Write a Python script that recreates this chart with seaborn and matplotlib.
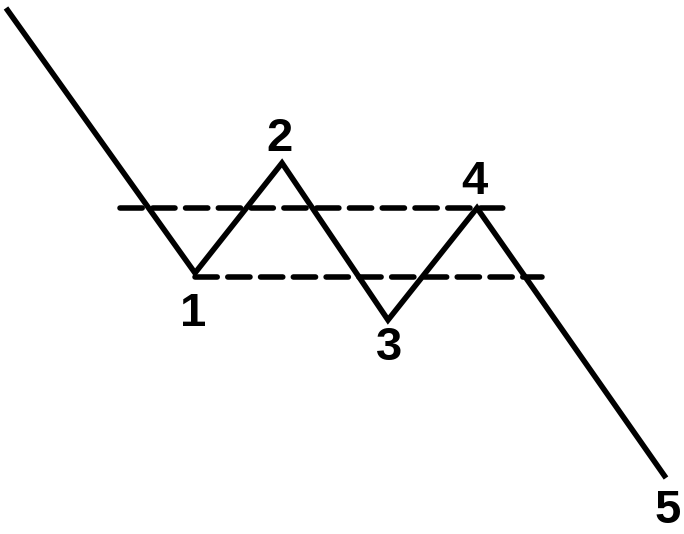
import matplotlib
matplotlib.use("Agg")
import matplotlib.pyplot as plt
import seaborn as sns
import pandas as pd

# zigzag path (pixel-like units, y grows downward)
wave_x = [6, 195, 282, 388, 477, 666]
wave_y = [8, 273, 163, 320, 208, 478]

# dashed levels
level_y = [208, 277]
level_x0 = [120, 195]
level_x1 = [512, 542]

# point labels
label_text = ["1", "2", "3", "4", "5"]
label_x = [193, 280, 389, 474, 668]
label_y = [314, 139, 348, 182, 511]

sns.set_style("white")

fig = plt.figure(figsize=(6.84, 5.34), dpi=100)
ax = fig.add_axes([0, 0, 1, 1])

df = pd.DataFrame({"x": wave_x, "y": wave_y})
sns.lineplot(data=df, x="x", y="y", sort=False, color="black", linewidth=4.0, ax=ax,
             solid_joinstyle="miter", solid_capstyle="butt")

hl = ax.hlines(level_y, level_x0, level_x1, colors="black", linewidth=4.0,
               linestyles=(0, (4.0, 1.9)))
hl.set_capstyle("round")

for t, x, y in zip(label_text, label_x, label_y):
    ax.text(x, y, t, ha="center", va="center", fontsize=34, fontweight="bold",
            family="Liberation Sans", color="black")

ax.set_xlim(0, 684)
ax.set_ylim(534, 0)
ax.axis("off")

fig.savefig("out.png", dpi=100, facecolor="white")
